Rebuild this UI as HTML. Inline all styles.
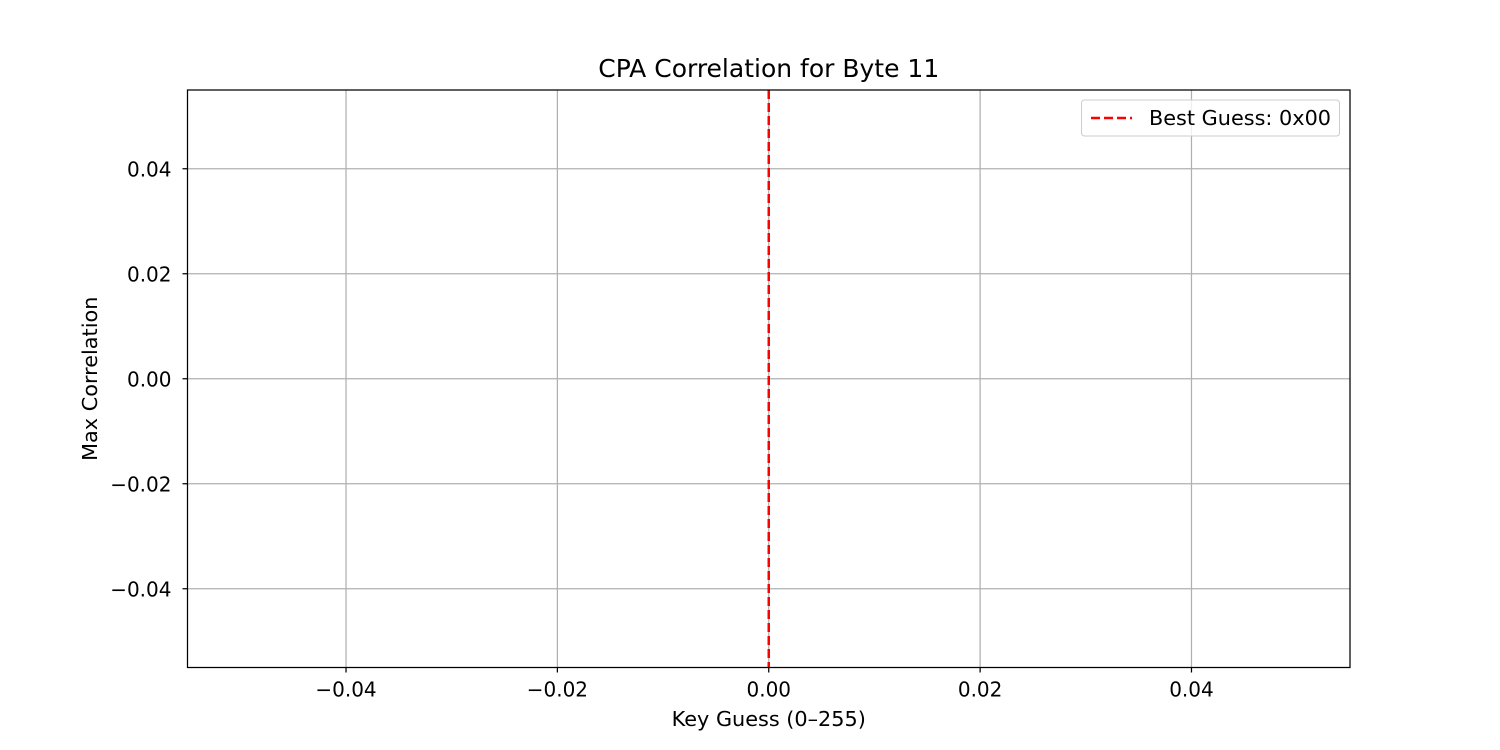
<!DOCTYPE html>
<html><head><meta charset="utf-8"><style>
body{margin:0;background:#fff;}
svg{display:block;font-family:"DejaVu Sans","Liberation Sans",sans-serif;}
</style></head><body>
<svg id="chart" width="1500" height="750" xmlns="http://www.w3.org/2000/svg">
<rect width="1500" height="750" fill="#fff"/>
<g id="grid"></g>
<g id="marks"></g>
<rect x="187.5" y="90" width="1162.5" height="577.5" fill="none" stroke="#000" stroke-width="1.25"/>
<g id="ticks"></g>
<text x="768.75" y="77" text-anchor="middle" font-size="25">CPA Correlation for Byte 11</text>
<text x="768.75" y="726" text-anchor="middle" font-size="20.8">Key Guess (0–255)</text>
<text transform="translate(97,378.75) rotate(-90)" text-anchor="middle" font-size="20.8">Max Correlation</text>
<g>
<rect x="1081.5" y="100" width="258" height="36" rx="3" fill="#fff" fill-opacity="0.8" stroke="#ccc"/>
<line x1="1091" y1="118" x2="1132" y2="118" stroke="#ff0000" stroke-width="2.5" stroke-dasharray="9,4"/>
<text x="1149" y="125" font-size="20.8">Best Guess: 0x00</text>
</g>
</svg>
<script>
const xTicks=[-0.04,-0.02,0.00,0.02,0.04];
const yTicks=[-0.04,-0.02,0.00,0.02,0.04];
const xDomain=[-0.055,0.055];
const yDomain=[-0.055,0.055];
const bestGuess=[0];
const L=187.5,R=1350,T=90,B=667.5;
const sx=v=>L+(v-xDomain[0])/(xDomain[1]-xDomain[0])*(R-L);
const sy=v=>B-(v-yDomain[0])/(yDomain[1]-yDomain[0])*(B-T);
const NS="http://www.w3.org/2000/svg";
const grid=document.getElementById('grid'),ticks=document.getElementById('ticks'),marks=document.getElementById('marks');
function mk(tag,attrs,parent,txt){const e=document.createElementNS(NS,tag);for(const k in attrs)e.setAttribute(k,attrs[k]);if(txt!==undefined)e.textContent=txt;parent.appendChild(e);return e;}
const fmt=v=>(v<0?'\u2212':'')+Math.abs(v).toFixed(2);
xTicks.forEach(v=>{const x=sx(v);
let g=mk('line',{x1:x,x2:x,y1:T,y2:B,stroke:'#b0b0b0','stroke-width':1.25},grid);


let t=mk('line',{x1:x,x2:x,y1:B,y2:B+5,stroke:'#000','stroke-width':1.25},ticks);


let l=mk('text',{x:x,y:B+29,'text-anchor':'middle','font-size':20},ticks,fmt(v));

});
yTicks.forEach(v=>{const y=sy(v);
let g=mk('line',{x1:L,x2:R,y1:y,y2:y,stroke:'#b0b0b0','stroke-width':1.25},grid);


let t=mk('line',{x1:L-5,x2:L,y1:y,y2:y,stroke:'#000','stroke-width':1.25},ticks);


let l=mk('text',{x:L-16,y:y+7.5,'text-anchor':'end','font-size':20},ticks,fmt(v));

});
bestGuess.forEach(v=>{const x=sx(v);
let m=mk('line',{x1:x,x2:x,y1:T,y2:B,stroke:'#ff0000','stroke-width':2.5,'stroke-dasharray':'9,4'},marks);

});
</script>
</body></html>
